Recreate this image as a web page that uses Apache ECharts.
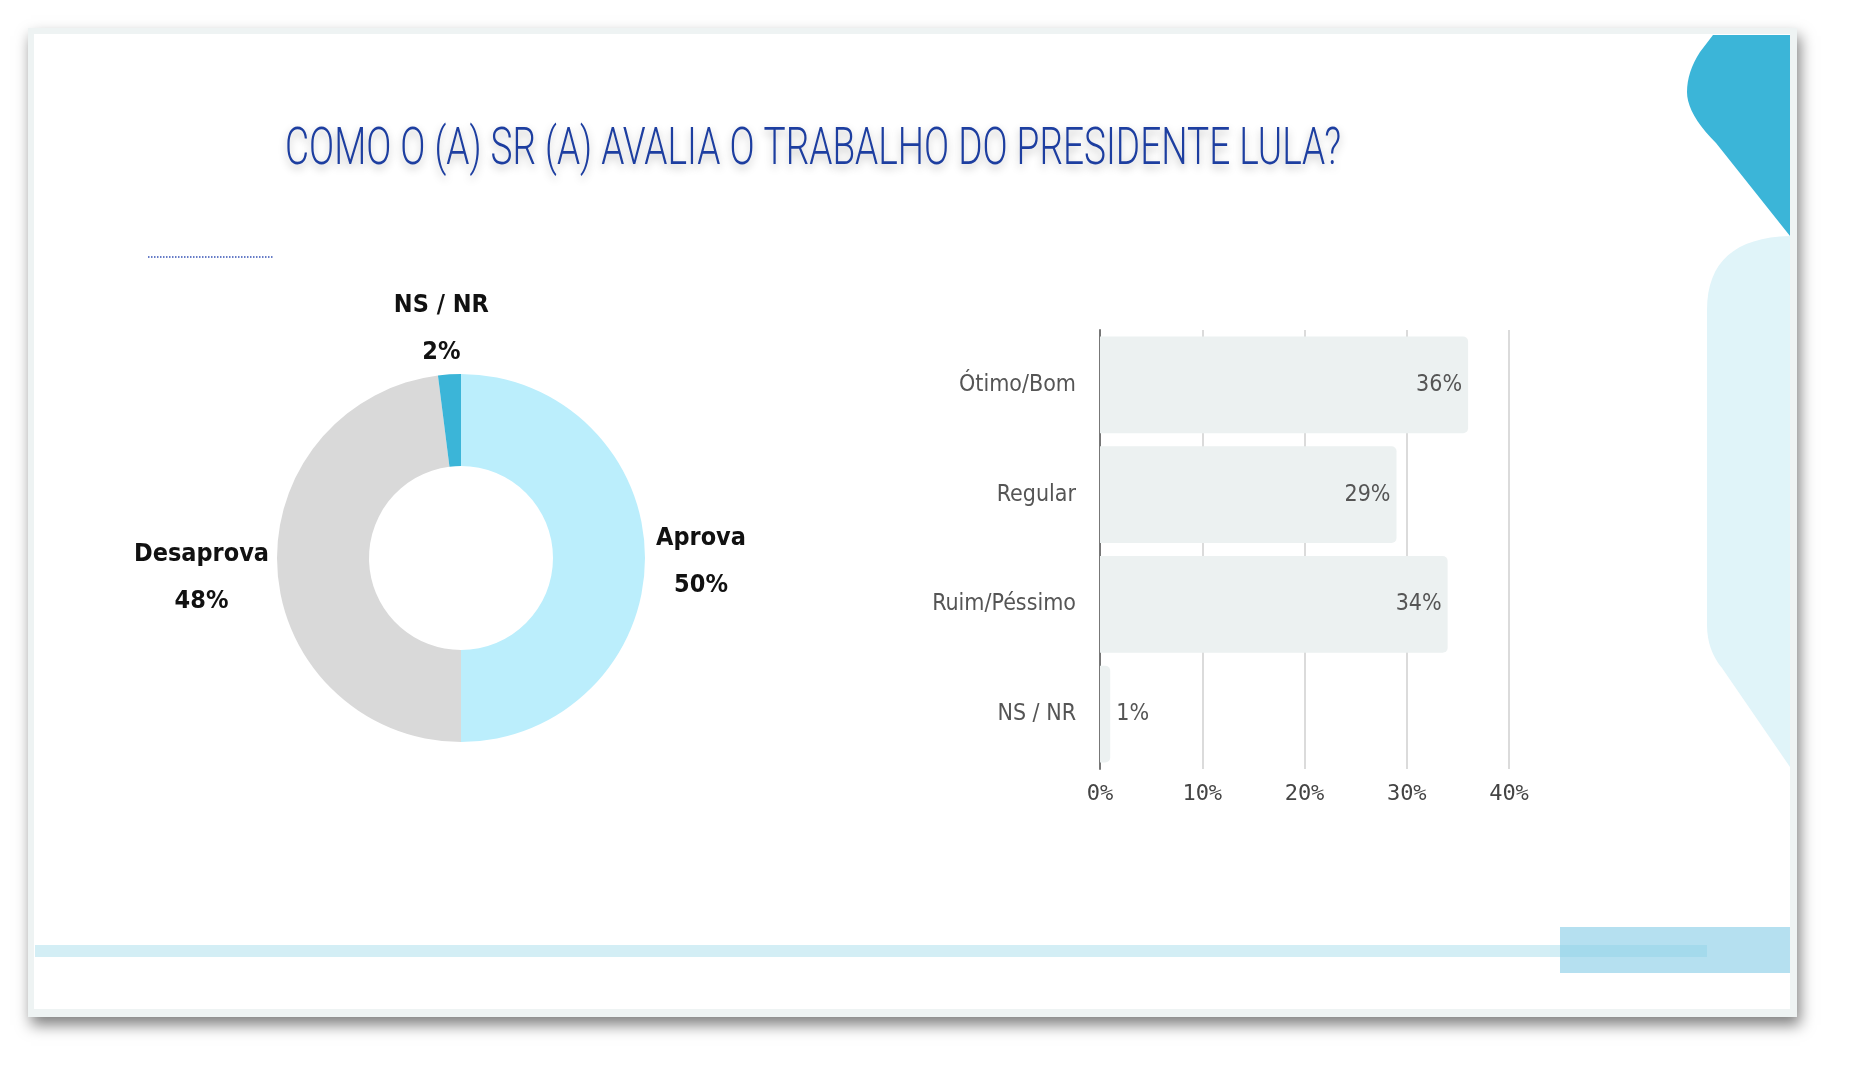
<!DOCTYPE html>
<html><head><meta charset="utf-8">
<script src="https://cdn.jsdelivr.net/npm/echarts@6/dist/echarts.min.js"></script>
<style>html,body{margin:0;padding:0;background:#fff}#c{width:1850px;height:1080px}</style>
</head><body><div id="c"></div>
<script>
const titleText = 'COMO O (A) SR (A) AVALIA O TRABALHO DO PRESIDENTE LULA?';
const pieNames = ['Aprova', 'Desaprova', 'NS / NR'];
const pieValues = [50, 48, 2];
const pieColors = ['#bbeefc', '#d9d9d9', '#3bb5d8'];
const barCategories = ['Ótimo/Bom', 'Regular', 'Ruim/Péssimo', 'NS / NR'];
const barValues = [36, 29, 34, 1];
const xTickMax = 40;
const xTickStep = 10;

const COND = "'DejaVu Sans Condensed','Liberation Sans Narrow','Roboto','Noto Sans',sans-serif";

function quad(p0, c, p1, n) {
  const pts = [];
  for (let i = 1; i <= n; i++) {
    const t = i / n, u = 1 - t;
    pts.push([u * u * p0[0] + 2 * u * t * c[0] + t * t * p1[0], u * u * p0[1] + 2 * u * t * c[1] + t * t * p1[1]]);
  }
  return pts;
}
const blueShape = [[1790, 35], [1790, 236], [1716, 143]]
  .concat(quad([1716, 143], [1687, 114], [1687, 92], 10))
  .concat(quad([1687, 92], [1687, 72], [1700, 52], 8))
  .concat([[1713, 35]]);
const lightShape = [[1790, 236], [1790, 767], [1722, 668]]
  .concat(quad([1722, 668], [1707, 650], [1707, 625], 8))
  .concat([[1707, 310]])
  .concat(quad([1707, 310], [1707, 238], [1790, 236], 16));

const cv = document.createElement('canvas').getContext('2d');
cv.font = "300 50px 'Roboto'";
const tw = cv.measureText(titleText).width;
const titleScale = 1056 / tw;

const chart = echarts.init(document.getElementById('c'));
const labelLens = [51, 71, 49];
const option = {
  backgroundColor: '#ffffff',
  animation: false,
  graphic: [
    { type: 'rect', z: -10, shape: { x: 28, y: 28, width: 1769, height: 989 },
      style: { fill: '#eef3f3', shadowBlur: 14, shadowColor: 'rgba(0,0,0,0.5)', shadowOffsetX: 3, shadowOffsetY: 8 } },
    { type: 'rect', z: -9, shape: { x: 34, y: 34, width: 1756, height: 975 }, style: { fill: '#ffffff' } },
    { type: 'polygon', z: -8, shape: { points: blueShape }, style: { fill: '#3bb5d8' } },
    { type: 'polygon', z: -8, shape: { points: lightShape }, style: { fill: '#e0f4f9' } },
    { type: 'rect', z: -8, shape: { x: 35, y: 945, width: 1672, height: 12 }, style: { fill: '#d3eef5' } },
    { type: 'rect', z: -7, shape: { x: 1560, y: 927, width: 230, height: 46 }, style: { fill: 'rgba(135,205,230,0.62)' } },
    { type: 'line', z: -7, shape: { x1: 148, y1: 257, x2: 274, y2: 257 },
      style: { stroke: '#3552b5', lineWidth: 1.5, lineDash: [1.5, 1.5] } },
    { type: 'text', z: 10, x: 285, y: 151, scaleX: titleScale, scaleY: 1.04,
      style: { text: titleText, font: "300 50px 'Roboto'", fill: '#1d3ea0', textVerticalAlign: 'middle',
        textShadowBlur: 8, textShadowColor: 'rgba(0,0,0,0.28)', textShadowOffsetY: 4 } }
  ],
  series: [
    {
      type: 'pie',
      center: [461, 558],
      radius: [92, 184],
      startAngle: 90,
      clockwise: true,
      avoidLabelOverlap: false,
      data: pieNames.map((n, i) => ({
        name: n, value: pieValues[i], itemStyle: { color: pieColors[i] },
        labelLine: { show: false, length: labelLens[i], length2: 0 }
      })),
      label: {
        show: true, position: 'outside',
        formatter: p => p.name + '\n' + p.value + '%',
        fontFamily: COND, fontWeight: 'bold', fontSize: 25, lineHeight: 47, color: '#111'
      },
      labelLine: { show: false },
      labelLayout: () => ({ align: 'center', verticalAlign: 'middle', dy: 4 }),
      emphasis: { disabled: true }
    },
    {
      type: 'bar',
      data: barValues.map((v, i) => ({
        value: v,
        label: v < 5 ? { position: 'right', distance: 6 } : { position: 'insideRight', distance: 6 }
      })),
      barCategoryGap: '11.8%',
      itemStyle: { color: '#ecf1f1', borderRadius: [0, 5, 5, 0] },
      label: { show: true, formatter: p => p.value + '%', fontFamily: COND, fontSize: 23, color: '#555' },
      emphasis: { disabled: true }
    }
  ],
  grid: { left: 1100, right: 341, top: 330, bottom: 311, containLabel: false },
  xAxis: {
    type: 'value', min: 0, max: xTickMax, interval: xTickStep,
    axisLine: { show: false }, axisTick: { show: false },
    axisLabel: { formatter: v => v + '%', fontFamily: "'DejaVu Sans Mono',monospace", fontSize: 22, color: '#444', margin: 14 },
    splitLine: { show: true, lineStyle: { color: '#cfcfcf', width: 1.5 } }
  },
  yAxis: {
    type: 'category', data: barCategories, inverse: true,
    axisLine: { show: true, lineStyle: { color: '#777', width: 2 } },
    axisTick: { show: false },
    axisLabel: { fontFamily: COND, fontSize: 23, color: '#555', margin: 24 }
  }
};
chart.setOption(option);
</script></body></html>
